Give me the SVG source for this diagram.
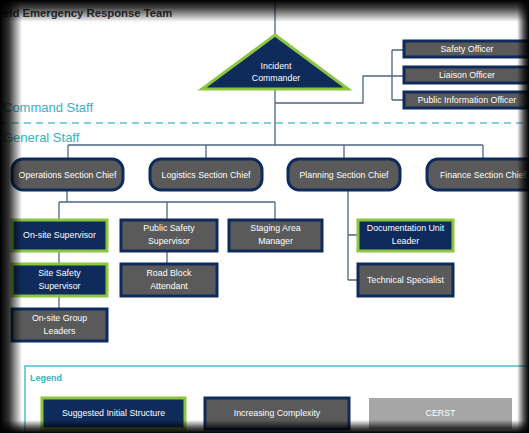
<svg xmlns="http://www.w3.org/2000/svg" width="529" height="433" viewBox="0 0 529 433">
<defs>
<style>
.t{font-family:"Liberation Sans",Arial,sans-serif;font-size:8.8px;fill:#ffffff;text-anchor:middle}
.g{fill:#5a5a5a;stroke:#0f2b5b;stroke-width:3}
.n{fill:#0f2b5b;stroke:#8cc63f;stroke-width:3}
.c{fill:none;stroke:#4f6584;stroke-width:1.3}
.s{font-family:"Liberation Sans",Arial,sans-serif;font-size:13px;fill:#3ab0bf}
</style>
<linearGradient id="vt" x1="0" y1="0" x2="0" y2="1"><stop offset="0" stop-color="#000" stop-opacity="1"/><stop offset="0.35" stop-color="#000" stop-opacity="0.75"/><stop offset="1" stop-color="#000" stop-opacity="0"/></linearGradient>
<linearGradient id="vl" x1="0" y1="0" x2="1" y2="0"><stop offset="0" stop-color="#000" stop-opacity="1"/><stop offset="0.4" stop-color="#000" stop-opacity="0.8"/><stop offset="1" stop-color="#000" stop-opacity="0"/></linearGradient>
<linearGradient id="vr" x1="1" y1="0" x2="0" y2="0"><stop offset="0" stop-color="#000" stop-opacity="1"/><stop offset="0.4" stop-color="#000" stop-opacity="0.7"/><stop offset="1" stop-color="#000" stop-opacity="0"/></linearGradient>
<linearGradient id="vb" x1="0" y1="1" x2="0" y2="0"><stop offset="0" stop-color="#000" stop-opacity="1"/><stop offset="0.4" stop-color="#000" stop-opacity="0.7"/><stop offset="1" stop-color="#000" stop-opacity="0"/></linearGradient>
</defs>
<rect width="529" height="433" fill="#ffffff"/>

<text x="3" y="17" font-family="'Liberation Sans',Arial,sans-serif" font-size="11.3" font-weight="bold" fill="#3a3a3a">eld Emergency Response Team</text>
<text class="s" x="3" y="112">Command Staff</text>
<text class="s" x="3" y="142">General Staff</text>
<line x1="0" y1="123" x2="529" y2="123" stroke="#5cc0c8" stroke-width="1.3" stroke-dasharray="7,5"/>

<g id="connectors">
<path class="c" d="M275 0V35M275 90V145M275 103H363V76H404M392 50V100M392 50H404M392 100H404"/>
<path class="c" d="M68 145H483M68 145V160M206 145V160M344 145V160M483 145V160"/>
<path class="c" d="M67 190V202M59 202H275M59 202V220M167 202V220M275 202V220M59 251V264M59 296V308M167 251V264"/>
<path class="c" d="M348 190V280M348 235H358M348 280H358"/>
</g>

<g id="incident-commander">
<polygon class="n" points="275,35 348,89 202,89"/>
<text class="t" x="276" y="69">Incident</text>
<text class="t" x="276" y="81">Commander</text>
</g>
<g id="safety-officer"><rect class="g" x="404" y="41" width="127" height="16"/><text class="t" x="467" y="52">Safety Officer</text></g>
<g id="liaison-officer"><rect class="g" x="404" y="67" width="127" height="16"/><text class="t" x="467" y="78">Liaison Officer</text></g>
<g id="public-information-officer"><rect class="g" x="404" y="92" width="127" height="16"/><text class="t" x="467" y="103">Public Information Officer</text></g>

<g id="operations"><rect class="g" x="12" y="159" width="111" height="31" rx="11"/><text class="t" x="67.5" y="178">Operations Section Chief</text></g>
<g id="logistics"><rect class="g" x="150" y="159" width="112" height="31" rx="11"/><text class="t" x="206" y="178">Logistics Section Chief</text></g>
<g id="planning"><rect class="g" x="288" y="159" width="112" height="31" rx="11"/><text class="t" x="344" y="178">Planning Section Chief</text></g>
<g id="finance"><rect class="g" x="427" y="159" width="112" height="31" rx="11"/><text class="t" x="483" y="178">Finance Section Chief</text></g>

<g id="onsite-supervisor"><rect class="n" x="12" y="220" width="95" height="31"/><text class="t" x="59.5" y="238">On-site Supervisor</text></g>
<g id="public-safety-supervisor"><rect class="g" x="121" y="220" width="96" height="31"/><text class="t" x="169" y="231">Public Safety</text><text class="t" x="169" y="244">Supervisor</text></g>
<g id="staging-area-manager"><rect class="g" x="229" y="220" width="93" height="31"/><text class="t" x="275.5" y="231">Staging Area</text><text class="t" x="275.5" y="244">Manager</text></g>
<g id="site-safety-supervisor"><rect class="n" x="12" y="264" width="95" height="32"/><text class="t" x="59.5" y="276">Site Safety</text><text class="t" x="59.5" y="289">Supervisor</text></g>
<g id="road-block-attendant"><rect class="g" x="121" y="264" width="96" height="32"/><text class="t" x="169" y="276">Road Block</text><text class="t" x="169" y="289">Attendant</text></g>
<g id="onsite-group-leaders"><rect class="g" x="12" y="309" width="95" height="32"/><text class="t" x="59.5" y="321">On-site Group</text><text class="t" x="59.5" y="334">Leaders</text></g>
<g id="documentation-unit-leader"><rect class="n" x="358" y="220" width="95" height="31"/><text class="t" x="405.5" y="231">Documentation Unit</text><text class="t" x="405.5" y="244">Leader</text></g>
<g id="technical-specialist"><rect class="g" x="358" y="264" width="95" height="32"/><text class="t" x="405.5" y="283">Technical Specialist</text></g>

<g id="legend">
<rect x="25" y="366" width="510" height="80" fill="none" stroke="#4cc0cc" stroke-width="1.5"/>
<text x="30" y="381" font-family="'Liberation Sans',Arial,sans-serif" font-size="9" font-weight="bold" fill="#3ab0bf">Legend</text>
<rect class="n" x="42" y="398" width="143" height="31"/><text class="t" x="113.5" y="416">Suggested Initial Structure</text>
<rect class="g" x="205" y="398" width="144" height="31"/><text class="t" x="277" y="416">Increasing Complexity</text>
<rect x="369" y="398" width="143" height="31" fill="#a6a6a6"/><text class="t" x="440.5" y="416" fill="#eeeeee">CERST</text>
</g>

<rect x="0" y="0" width="529" height="22" fill="url(#vt)"/>
<rect x="0" y="0" width="22" height="433" fill="url(#vl)"/>
<rect x="517" y="0" width="12" height="433" fill="url(#vr)"/>
<rect x="0" y="420" width="529" height="13" fill="url(#vb)"/>
</svg>
